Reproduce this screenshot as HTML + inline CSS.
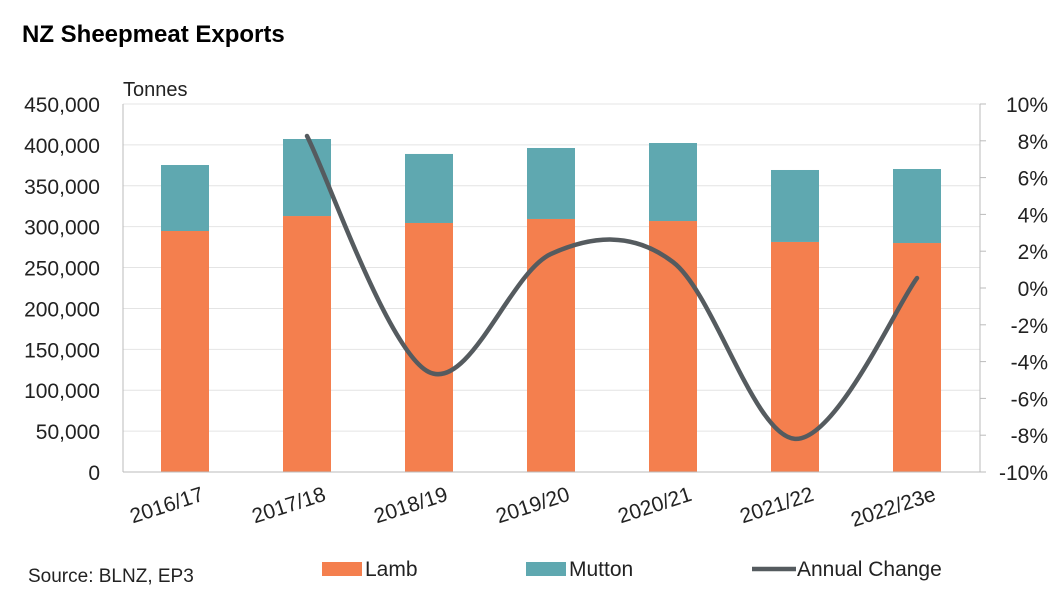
<!DOCTYPE html>
<html><head><meta charset="utf-8"><style>
body{margin:0;background:#fff;width:1064px;height:591px;overflow:hidden;font-family:"Liberation Sans",sans-serif}
</style></head><body>
<svg id="c" width="1064" height="591" font-family="Liberation Sans, sans-serif"></svg>
<script>
const categories=["2016/17","2017/18","2018/19","2019/20","2020/21","2021/22","2022/23e"];
const lamb=[294700,313000,304500,309400,306900,281300,280000];
const mutton=[80700,94200,84400,86800,95400,88000,90500];
const annualChange=[null,8.26,-4.57,1.85,1.41,-8.2,0.54];
const leftTicks=[0,50000,100000,150000,200000,250000,300000,350000,400000,450000];
const rightTicks=[-10,-8,-6,-4,-2,0,2,4,6,8,10];
const X0=123,X1=980,Y0=472,Y1=104,step=122,first=185,bw=48;
const ns="http://www.w3.org/2000/svg",svg=document.getElementById('c');
function mk(t,a,txt){const e=document.createElementNS(ns,t);for(const k in a)e.setAttribute(k,a[k]);if(txt!=null)e.textContent=txt;svg.appendChild(e);return e;}
const yL=v=>Y0-(v/450000)*(Y0-Y1);
const yR=v=>Y0-((v+10)/20)*(Y0-Y1);
const xC=i=>first+i*step;
let e;
e=mk('text',{x:22,y:42,'font-size':24,'font-weight':'bold',fill:'#000'},'NZ Sheepmeat Exports');

e=mk('text',{x:123,y:96,'font-size':20,fill:'#222'},'Tonnes');

leftTicks.forEach(v=>{
 if(v>0){e=mk('line',{x1:X0,x2:X1,y1:yL(v),y2:yL(v),stroke:'#e4e4e4','stroke-width':1});
 }
 e=mk('text',{x:100,y:yL(v)+8,'font-size':21,'text-anchor':'end',fill:'#222'},v.toLocaleString('en-US'));
 
});
rightTicks.forEach(v=>{
 e=mk('line',{x1:X1,x2:X1+6,y1:yR(v),y2:yR(v),stroke:'#bbb'});
 
 e=mk('text',{x:1048,y:yR(v)+8,'font-size':21,'text-anchor':'end',fill:'#222'},v+'%');
 
});
e=mk('line',{x1:X0,x2:X0,y1:Y1,y2:Y0,stroke:'#bbb'});
e=mk('line',{x1:X1,x2:X1,y1:Y1,y2:Y0,stroke:'#bbb'});
categories.forEach((c,i)=>{
 const x=xC(i)-bw/2;
 e=mk('rect',{x:x,y:yL(lamb[i]),width:bw,height:Y0-yL(lamb[i]),fill:'#f47f4e'});
 
 e=mk('rect',{x:x,y:yL(lamb[i]+mutton[i]),width:bw,height:yL(lamb[i])-yL(lamb[i]+mutton[i]),fill:'#5fa8b0'});
 
 e=mk('text',{x:xC(i)+20,y:500,'font-size':21,'text-anchor':'end',fill:'#222',transform:`rotate(-18 ${xC(i)+20} 500)`},c);
 
});
e=mk('line',{x1:X0,x2:X1,y1:Y0,y2:Y0,stroke:'#bbb'});
const pts=[];annualChange.forEach((v,i)=>{if(v!=null)pts.push([xC(i),yR(v)]);});
let d=`M${pts[0][0]},${pts[0][1]}`;
for(let i=0;i<pts.length-1;i++){
 const p0=pts[i-1]||pts[i],p1=pts[i],p2=pts[i+1],p3=pts[i+2]||p2;
 const c1=[p1[0]+(p2[0]-p0[0])/6,p1[1]+(p2[1]-p0[1])/6],c2=[p2[0]-(p3[0]-p1[0])/6,p2[1]-(p3[1]-p1[1])/6];
 d+=` C${c1[0]},${c1[1]} ${c2[0]},${c2[1]} ${p2[0]},${p2[1]}`;
}
e=mk('path',{d:d,fill:'none',stroke:'#555b5f','stroke-width':4.5,'stroke-linecap':'round'});

e=mk('text',{x:28,y:582,'font-size':19,fill:'#222'},'Source: BLNZ, EP3');

e=mk('rect',{x:322,y:562,width:40,height:14,fill:'#f47f4e'});
e=mk('text',{x:365,y:576,'font-size':21,fill:'#222'},'Lamb');
e=mk('rect',{x:526,y:562,width:40,height:14,fill:'#5fa8b0'});
e=mk('text',{x:569,y:576,'font-size':21,fill:'#222'},'Mutton');
e=mk('line',{x1:752,x2:796,y1:569,y2:569,stroke:'#555b5f','stroke-width':4.5});
e=mk('text',{x:797,y:576,'font-size':21,fill:'#222'},'Annual Change');
</script>
</body></html>
